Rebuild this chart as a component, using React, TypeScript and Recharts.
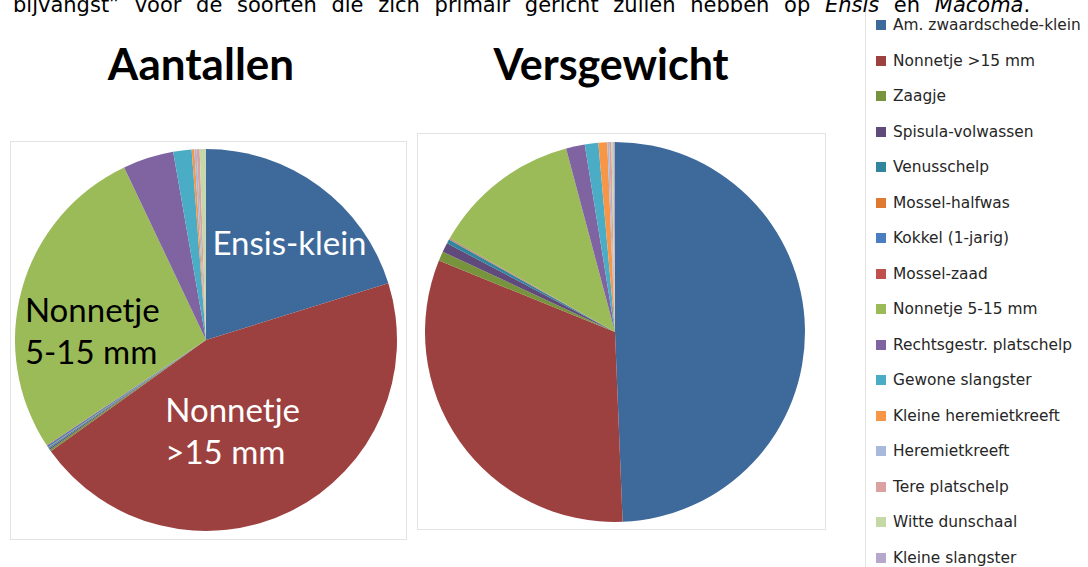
import React from 'react';
import { PieChart, Pie, Cell } from 'recharts';

const species = [
  'Am. zwaardschede-klein',
  'Nonnetje >15 mm',
  'Zaagje',
  'Spisula-volwassen',
  'Venusschelp',
  'Mossel-halfwas',
  'Kokkel (1-jarig)',
  'Mossel-zaad',
  'Nonnetje 5-15 mm',
  'Rechtsgestr. platschelp',
  'Gewone slangster',
  'Kleine heremietkreeft',
  'Heremietkreeft',
  'Tere platschelp',
  'Witte dunschaal',
  'Kleine slangster',
];

const colors = [
  '#3E6A9B', '#9C413F', '#77933C', '#604A7B', '#31859C', '#DE7A32',
  '#4A7EC0', '#C0504D', '#9BBB59', '#8064A2', '#4BACC6', '#F79646',
  '#A7BADB', '#DBA1A0', '#C5D9A6', '#B6A8CC',
];

const aantallen = [20.2, 44.9, 0.15, 0.12, 0.1, 0.03, 0.15, 0.05, 27.25, 4.3, 1.55, 0.22, 0.2, 0.25, 0.5, 0.03];
const versgewicht = [49.4, 31.8, 0.8, 0.8, 0.35, 0.05, 0.03, 0.05, 12.65, 1.6, 1.15, 0.75, 0.15, 0.2, 0.15, 0.15];

const titles = ['Aantallen', 'Versgewicht'];
const introText = ['bijvangst\u201d voor de soorten die zich primair gericht zullen hebben op ', 'Ensis', ' en ', 'Macoma', '.'];

const aantallenData = species.map((name, i) => ({ name, value: aantallen[i] }));
const versgewichtData = species.map((name, i) => ({ name, value: versgewicht[i] }));

type LabelSpec = { lines: string[]; dx: number; dy: number; anchor: 'start' | 'middle' | 'end'; fill: string };

const aantallenLabels: Record<number, LabelSpec> = {
  0: { lines: ['Ensis-klein'], dx: 0.437, dy: -0.445, anchor: 'middle', fill: '#ffffff' },
  1: { lines: ['Nonnetje', '>15 mm'], dx: -0.213, dy: 0.43, anchor: 'start', fill: '#ffffff' },
  8: { lines: ['Nonnetje', '5-15 mm'], dx: -0.948, dy: -0.095, anchor: 'start', fill: '#000000' },
};

const makeLabel = (specs: Record<number, LabelSpec>) => (props: any) => {
  const spec = specs[props.index];
  if (!spec) return null;
  const r = props.outerRadius;
  const x = props.cx + spec.dx * r;
  const y = props.cy + spec.dy * r;
  return (
    <text x={x} y={y} textAnchor={spec.anchor} fill={spec.fill} fontFamily="Lato" fontSize={33}>
      {spec.lines.map((l, i) => (
        <tspan key={i} x={x} y={y + i * 42}>{l}</tspan>
      ))}
    </text>
  );
};

const boxBorder = '1px solid #e3e3e3';

export default function App() {
  return (
    <div style={{ position: 'absolute', left: 0, top: 0, width: 1088, height: 567, overflow: 'hidden', background: '#fff' }}>
      <div style={{ position: 'absolute', left: 865, top: -10, width: 300, height: 600, border: boxBorder, boxSizing: 'border-box' }} />

      <svg width={1088} height={110} style={{ position: 'absolute', left: 0, top: 0 }}>
        <text x={13} y={12} fontFamily="DejaVu Sans" fontSize={21} wordSpacing={8} fill="#000">
          <tspan>{introText[0]}</tspan>
          <tspan fontStyle="italic">{introText[1]}</tspan>
          <tspan>{introText[2]}</tspan>
          <tspan fontStyle="italic">{introText[3]}</tspan>
          <tspan>{introText[4]}</tspan>
        </text>
        <text x={201} y={80} textAnchor="middle" fontFamily="Lato" fontWeight="bold" fontSize={44} fill="#000">{titles[0]}</text>
        <text x={611} y={80} textAnchor="middle" fontFamily="Lato" fontWeight="bold" fontSize={43} fill="#000">{titles[1]}</text>
      </svg>

      <div style={{ position: 'absolute', left: 10, top: 141, width: 397, height: 399, border: boxBorder, boxSizing: 'border-box' }}>
        <PieChart width={395} height={397} margin={{ top: 0, right: 0, bottom: 0, left: 0 }}>
          <Pie
            data={aantallenData}
            dataKey="value"
            nameKey="name"
            cx={195}
            cy={198}
            outerRadius={191}
            startAngle={90}
            endAngle={-270}
            stroke="none"
            isAnimationActive={false}
            labelLine={false}
            label={makeLabel(aantallenLabels)}
          >
            {aantallenData.map((d, i) => (
              <Cell key={d.name} fill={colors[i]} />
            ))}
          </Pie>
        </PieChart>
      </div>

      <div style={{ position: 'absolute', left: 417, top: 133, width: 409, height: 397, border: boxBorder, boxSizing: 'border-box' }}>
        <PieChart width={407} height={395} margin={{ top: 0, right: 0, bottom: 0, left: 0 }}>
          <Pie
            data={versgewichtData}
            dataKey="value"
            nameKey="name"
            cx={197}
            cy={198}
            outerRadius={190}
            startAngle={90}
            endAngle={-270}
            stroke="none"
            isAnimationActive={false}
            labelLine={false}
          >
            {versgewichtData.map((d, i) => (
              <Cell key={d.name} fill={colors[i]} />
            ))}
          </Pie>
        </PieChart>
      </div>

      {species.map((name, i) => (
        <div key={name} style={{ position: 'absolute', left: 876, top: 25 + i * 35.5 - 10, height: 20, display: 'flex', alignItems: 'center', whiteSpace: 'nowrap' }}>
          <div style={{ width: 10, height: 10, background: colors[i], marginRight: 7 }} />
          <span style={{ fontFamily: 'DejaVu Sans', fontSize: 15.4, color: '#262626' }}>{name}</span>
        </div>
      ))}
    </div>
  );
}
